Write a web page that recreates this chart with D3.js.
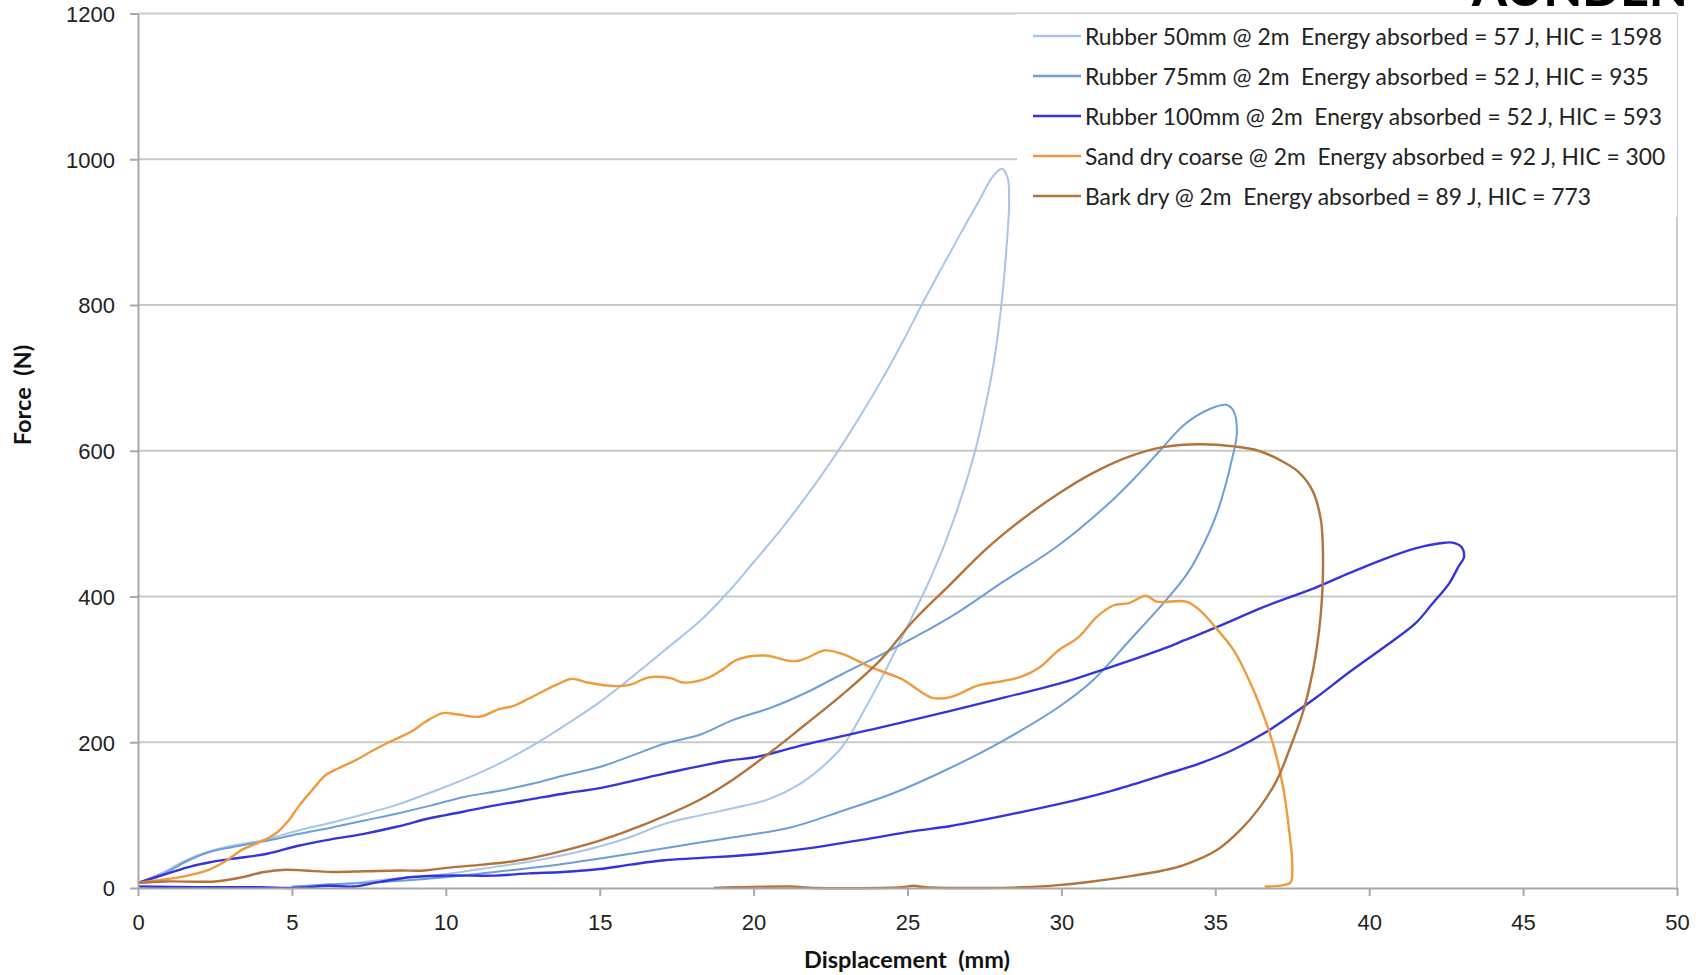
<!DOCTYPE html>
<html>
<head>
<meta charset="utf-8">
<script src="https://cdn.jsdelivr.net/npm/d3@7"></script>
<style>
	body { margin: 0; background: #fff; }
	svg { display: block; font-family: Lato, 'Open Sans', sans-serif; }
	.grid line { stroke: #c9c9c9; stroke-width: 2; }
	.axis path, .axis line { stroke: #a8a8a8; stroke-width: 2; }
	.axis text { font-size: 22px; fill: #222; }
	.title { font-size: 23.5px; font-weight: bold; fill: #111; white-space: pre; }
	.legend text { font-size: 22.8px; fill: #222; white-space: pre; }
	.series { fill: none; stroke-linejoin: round; }
</style>
</head>
<body>
<svg id="chart" width="1700" height="975"></svg>
<script>

// displacement (mm), force (N) pairs, loading then unloading
var rubber50 = [
	[0,7],[0.9,23],[1.5,37],[2.3,50],[3.05,58],[4.1,66],[5.2,79],[6.3,90],[7.4,102],[8.4,114],
	[9.5,131],[10.6,149],[11.7,170],[12.8,195],[13.9,224],[15,255],[16,288],[17.1,326],[18.3,368],
	[19.3,412],[20,447],[20.7,482],[21.4,520],[22.1,560],[22.75,600],[23.5,650],[24.2,700],
	[24.85,750],[25.46,800],[26.1,850],[26.75,900],[27.35,945],[27.75,975],[28.06,987],[28.25,975],
	[28.3,940],[28.2,870],[28.05,800],[27.8,720],[27.5,655],[27.2,600],[26.5,505],[25.8,430],
	[25.1,368],[24.4,308],[23.7,252],[22.9,195],[22.2,165],[21.4,140],[20.5,122],[19.4,110],
	[18.3,100],[17.1,88],[16,70],[14.9,56],[13.8,45],[12.7,36],[11.6,29],[10.5,22],[9.5,17],
	[8.4,13],[7.3,8],[6.2,4],[5.5,2]
];

var rubber75 = [
	[0,7],[0.9,21],[1.5,35],[2.3,49],[3.05,56],[4.1,64],[5.2,74],[6.3,83],[7.4,93],[8.4,102],
	[9.5,113],[10.6,125],[11.7,133],[12.8,143],[13.9,155],[15,166],[16,181],[17.1,198],[18.3,211],
	[19.3,230],[20.6,248],[21.8,270],[22.9,294],[24.6,330],[26.4,372],[28.1,420],[29.9,470],
	[31.6,530],[32.5,568],[33.2,600],[34,636],[34.8,657],[35.35,663],[35.6,654],[35.7,624],
	[35.55,590],[35.1,520],[34.6,470],[34.1,432],[33.4,395],[32.2,339],[31,284],[29.9,248],
	[28.1,202],[26.4,165],[24.6,131],[22.9,106],[21.2,83],[19.4,70],[18.2,62],[16,47],[13.8,33],
	[11.6,22],[9.5,13],[7.8,8],[6.2,5],[5,2]
];

var rubber100 = [
	[0,7],[0.9,19],[1.75,30],[2.3,35],[3.05,40],[4.2,47],[5.2,58],[6.3,67],[7.3,74],[8.4,84],
	[9.5,96],[10,100],[11.7,114],[12.8,122],[13.9,130],[15,137],[17.1,157],[19.2,175],[20,179],
	[21.7,197],[24.1,220],[26.4,243],[28.1,261],[29.9,280],[31.6,303],[33.3,328],[34,340],
	[35.05,358],[36.6,386],[38.3,413],[39.35,432],[40.4,450],[41.5,466],[42.3,473],[42.7,474],
	[43,468],[43.08,454],[42.9,441],[42.6,418],[42.05,390],[41.5,363],[40.4,328],[39.35,296],
	[38.3,262],[37.5,238],[36.65,214],[35.6,190],[34.5,171],[33.3,155],[31.6,133],[29.9,115],
	[28.1,99],[26.4,85],[25.2,78],[23.5,66],[21.7,54],[20,46],[18.2,41],[17.1,38],[16,32],[15,26],
	[13.8,22],[12.7,20],[11.6,17],[10,17],[8.9,15],[7.8,8],[7,2],[6.2,3],[5,0],[4,1],[2,1],[0,2]
];

var sandDry = [
	[0,7],[0.9,12],[1.5,16],[2.3,25],[2.85,37],[3.4,53],[3.9,62],[4.45,74],[4.9,93],[5.2,111],
	[5.65,134],[6.1,155],[6.5,164],[7.1,176],[7.6,188],[8.15,200],[8.9,215],[9.3,227],[9.9,240],
	[10.4,238],[11.1,235],[11.7,245],[12.2,250],[12.7,260],[13.6,279],[14.1,287],[14.6,282],
	[15.5,277],[16,279],[16.6,289],[17.3,288],[17.7,282],[18.5,288],[19,300],[19.45,313],[20.35,319],
	[21.3,311],[21.75,316],[22.3,326],[22.9,321],[23.8,303],[24.8,287],[25.8,261],[26.4,262],
	[27.3,278],[28.1,284],[28.7,290],[29.3,303],[29.9,326],[30.55,344],[31.15,372],[31.7,388],
	[32.2,391],[32.75,401],[33.1,393],[34.05,393],[34.5,381],[35,358],[35.6,326],[36.1,285],
	[36.55,239],[36.9,194],[37.2,139],[37.4,79],[37.5,33],[37.45,8],[37.2,4],[36.6,2]
];

var barkDry = [
	[0,7],[0.9,9],[2.5,9],[3.3,14],[4.1,22],[4.8,25],[5.4,24],[6.3,22],[7.4,23],[8.5,24],[9.3,24],
	[10.1,28],[11.2,32],[12.25,37],[13,43],[13.9,52],[15,65],[16.5,88],[18.2,120],[19.3,148],
	[20.6,188],[21.7,225],[22.9,266],[24.1,312],[25.2,367],[26.4,417],[27.5,463],[28.7,505],
	[29.9,541],[31,569],[32.2,592],[33.3,605],[34.5,609],[35.6,606],[36.4,600],[37.2,585],
	[37.7,571],[38.15,546],[38.43,505],[38.5,445],[38.43,377],[38.27,322],[38.06,276],[37.8,235],
	[37.4,189],[37,148],[36.45,111],[35.8,79],[35.05,52],[33.95,31],[33.3,24],[32.2,16],[31,9],
	[29.9,4],[28.7,1],[27.5,0],[25.6,1],[25.2,3],[24.8,1],[22,0],[21.2,2],[19.4,1],[18.7,0]
];

var seriesNames = [
	'Rubber 50mm @ 2m  Energy absorbed = 57 J, HIC = 1598',
	'Rubber 75mm @ 2m  Energy absorbed = 52 J, HIC = 935',
	'Rubber 100mm @ 2m  Energy absorbed = 52 J, HIC = 593',
	'Sand dry coarse @ 2m  Energy absorbed = 92 J, HIC = 300',
	'Bark dry @ 2m  Energy absorbed = 89 J, HIC = 773'
];
var seriesColors = ['#a7c5e8', '#6c9fd8', '#3434dc', '#f09a3e', '#b5733a'];

var xTicks = [0, 5, 10, 15, 20, 25, 30, 35, 40, 45, 50];
var yTicks = [0, 200, 400, 600, 800, 1000, 1200];


var config = {
	margin: {top: 13.5, right: 23, bottom: 87, left: 138},
	legend: {x: 1017, y: 14, width: 660, height: 203, rowGap: 40}
};

var svg = d3.select('#chart'),
	W = +svg.attr('width'),
	H = +svg.attr('height'),
	m = config.margin,
	innerW = W - m.left - m.right,
	innerH = H - m.top - m.bottom;

var x = d3.scaleLinear().domain([0, 50]).range([m.left, m.left + innerW]);
var y = d3.scaleLinear().domain([0, 1200]).range([m.top + innerH, m.top]);

// gridlines + plot border on the right
var grid = svg.append('g').attr('class', 'grid');

grid.selectAll('line.h')
	.data(yTicks.filter(function(d){ return d > 0; }))
	.enter()
	.append('line')
	.attr('class', 'h')
	.attr('x1', x(0))
	.attr('x2', x(50))
	.attr('y1', function(d){ return y(d); })
	.attr('y2', function(d){ return y(d); });

grid.append('line')
	.attr('x1', x(50)).attr('x2', x(50))
	.attr('y1', y(1200)).attr('y2', y(0));


var series = [rubber50, rubber75, rubber100, sandDry, barkDry];

var line = d3.line()
	.x(function(d){ return x(d[0]); })
	.y(function(d){ return y(d[1]); })
	.curve(d3.curveCatmullRom.alpha(0.5));

svg.append('g')
	.selectAll('path.series')
	.data(series)
	.enter()
	.append('path')
	.attr('class', 'series')
	.attr('stroke', function(d, i){ return seriesColors[i]; })
	.attr('stroke-width', function(d, i){ return i < 2 ? 2 : 2.4; })
	.attr('d', line);


// axes
svg.append('g')
	.attr('class', 'axis')
	.attr('transform', 'translate(' + x(0) + ',0)')
	.call(d3.axisLeft(y).tickValues(yTicks).tickFormat(d3.format('d')).tickSize(8).tickSizeOuter(0).tickPadding(15))
	.selectAll('text')
	.attr('dy', '0.36em');

svg.append('g')
	.attr('class', 'axis')
	.attr('transform', 'translate(0,' + y(0) + ')')
	.call(d3.axisBottom(x).tickValues(xTicks).tickFormat(d3.format('d')).tickSize(8).tickSizeOuter(0).tickPadding(18));

svg.append('text')
	.attr('class', 'title')
	.attr('x', 907)
	.attr('y', 959)
	.attr('text-anchor', 'middle')
	.attr('dominant-baseline', 'central')
	.text('Displacement  (mm)');

svg.append('text')
	.attr('class', 'title')
	.attr('transform', 'translate(22,395) rotate(-90)')
	.attr('text-anchor', 'middle')
	.attr('dominant-baseline', 'central')
	.text('Force  (N)');


// legend
var lg = config.legend;
var legend = svg.append('g').attr('class', 'legend');

legend.append('rect')
	.attr('x', lg.x)
	.attr('y', lg.y)
	.attr('width', lg.width)
	.attr('height', lg.height)
	.attr('fill', '#fff');

var item = legend.selectAll('g.item')
	.data(seriesNames)
	.enter()
	.append('g')
	.attr('class', 'item')
	.attr('transform', function(d, i){ return 'translate(0,' + (lg.y + 22 + i * lg.rowGap) + ')'; });

item.append('line')
	.attr('x1', 1033)
	.attr('x2', 1081)
	.attr('stroke', function(d, i){ return seriesColors[i]; })
	.attr('stroke-width', 2.5);

item.append('text')
	.attr('x', 1085)
	.attr('dominant-baseline', 'central')
	.text(function(d){ return d; });


// slide heading, only its bottom edge shows at the top right
svg.append('text')
	.attr('x', 1472)
	.attr('y', 6)
	.attr('font-size', 50)
	.attr('font-weight', 900)
	.attr('fill', '#000')
	.text('AUNDEN');

</script>
</body>
</html>
